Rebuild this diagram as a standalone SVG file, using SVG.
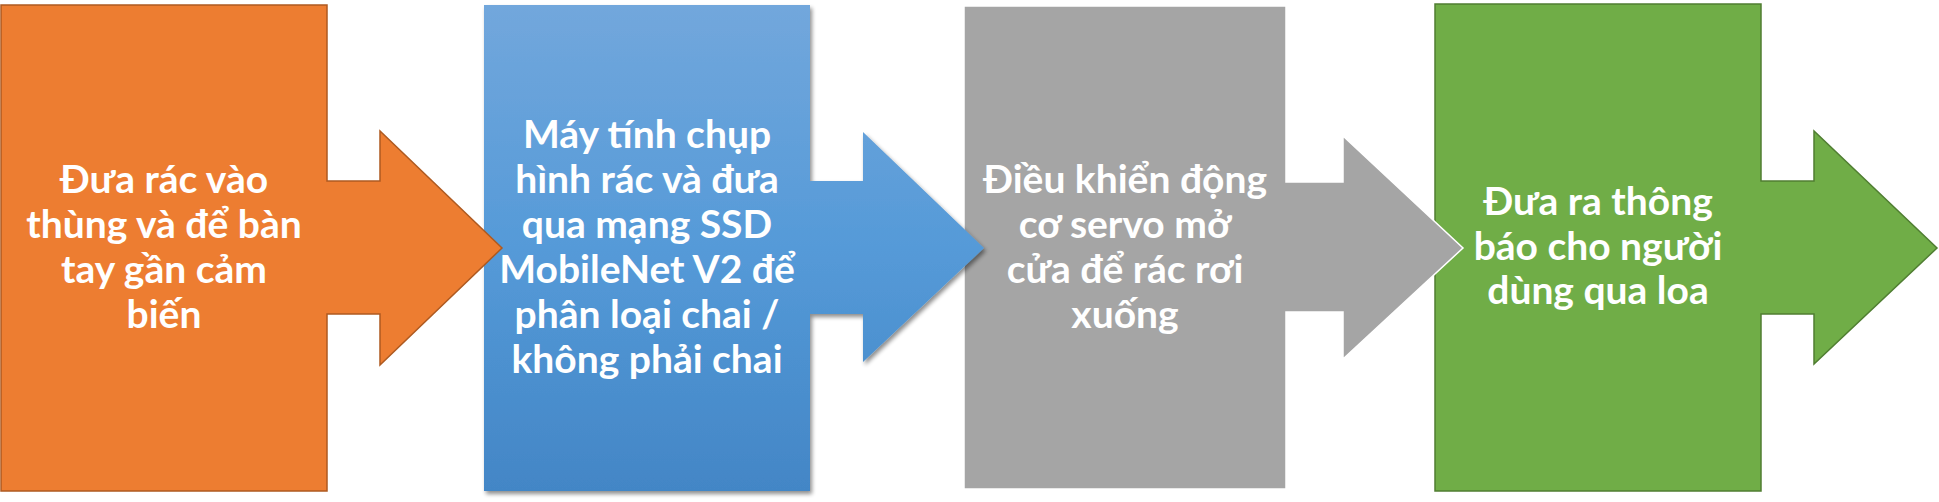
<svg xmlns="http://www.w3.org/2000/svg" width="1939" height="502" viewBox="0 0 1939 502">
<style>
.lbl{font-family:Lato,"Noto Sans","DejaVu Sans",sans-serif;font-weight:bold;font-size:39px;fill:#ffffff;text-anchor:middle}
</style>
<defs>
<linearGradient id="gBlue" x1="0" y1="0" x2="0" y2="1">
<stop offset="0" stop-color="#72a7dc"/>
<stop offset="0.5" stop-color="#559ad8"/>
<stop offset="1" stop-color="#4386c6"/>
</linearGradient>
<filter id="shadow" x="-10%" y="-10%" width="120%" height="120%">
<feGaussianBlur in="SourceAlpha" stdDeviation="2"/>
<feOffset dx="2" dy="3" result="b"/>
<feComponentTransfer><feFuncA type="linear" slope="0.45"/></feComponentTransfer>
<feMerge><feMergeNode/><feMergeNode in="SourceGraphic"/></feMerge>
</filter>
</defs>
<g id="connectors"></g>
<g id="step4">
<path d="M1435 4 H1761 V181 H1814 V131 L1937 248 L1814 364 V314 H1761 V491 H1435 Z" fill="#70ad47" stroke="#507e32" stroke-width="1.5"/>
<text class="lbl"><tspan x="1598" y="215">Đưa ra thông</tspan><tspan x="1598" y="260">báo cho người</tspan><tspan x="1598" y="304">dùng qua loa</tspan></text>
</g>
<g id="step3">
<path d="M964 6 H1286 V182 H1343 V136 L1463 248 L1343 359 V312 H1286 V489 H964 Z" fill="#a5a5a5" stroke="#ffffff" stroke-width="1.5"/>
<text class="lbl"><tspan x="1125" y="193">Điều khiển động</tspan><tspan x="1125" y="238">cơ servo mở</tspan><tspan x="1125" y="283">cửa để rác rơi</tspan><tspan x="1125" y="328">xuống</tspan></text>
</g>
<g id="step2">
<path d="M484 5 H810 V181 H863 V132 L984 248 L863 362 V314 H810 V491 H484 Z" fill="url(#gBlue)" filter="url(#shadow)"/>
<text class="lbl"><tspan x="647" y="148">Máy tính chụp</tspan><tspan x="647" y="193">hình rác và đưa</tspan><tspan x="647" y="238">qua mạng SSD</tspan><tspan x="647" y="283">MobileNet V2 để</tspan><tspan x="647" y="328">phân loại chai /</tspan><tspan x="647" y="373">không phải chai</tspan></text>
</g>
<g id="step1">
<path d="M1 5 H327 V181 H380 V131 L502 248 L380 365 V314 H327 V491 H1 Z" fill="#ed7d31" stroke="#ae5a21" stroke-width="1.5"/>
<text class="lbl"><tspan x="164" y="193">Đưa rác vào</tspan><tspan x="164" y="238">thùng và để bàn</tspan><tspan x="164" y="283">tay gần cảm</tspan><tspan x="164" y="328">biến</tspan></text>
</g>
</svg>
